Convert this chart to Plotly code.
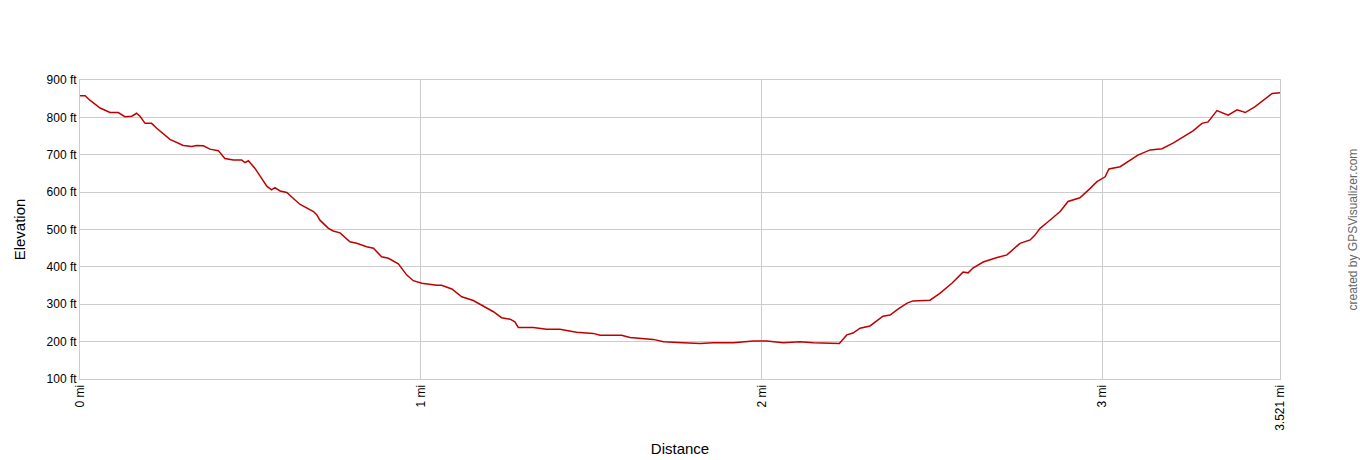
import plotly.graph_objects as go

# elevation profile
distance_mi = [
    0.000, 0.015, 0.029, 0.049, 0.059, 0.088, 0.112, 0.132, 0.152, 0.166,
    0.176, 0.191, 0.210, 0.225, 0.264, 0.303, 0.328, 0.342, 0.362, 0.381,
    0.406, 0.425, 0.450, 0.474, 0.484, 0.494, 0.513, 0.533, 0.548, 0.562,
    0.572, 0.587, 0.607, 0.626, 0.646, 0.685, 0.695, 0.704, 0.729, 0.743,
    0.763, 0.792, 0.812, 0.841, 0.861, 0.885, 0.905, 0.934, 0.959, 0.978,
    1.003, 1.047, 1.061, 1.091, 1.120, 1.154, 1.193, 1.213, 1.237, 1.262,
    1.276, 1.286, 1.330, 1.369, 1.408, 1.457, 1.506, 1.526, 1.589, 1.614,
    1.682, 1.712, 1.770, 1.819, 1.858, 1.917, 1.976, 2.015, 2.064, 2.113,
    2.152, 2.201, 2.228, 2.250, 2.268, 2.289, 2.318, 2.356, 2.377, 2.400,
    2.427, 2.444, 2.494, 2.523, 2.559, 2.591, 2.606, 2.620, 2.650, 2.691,
    2.720, 2.758, 2.788, 2.802, 2.817, 2.837, 2.876, 2.899, 2.934, 2.964,
    2.984, 3.008, 3.019, 3.052, 3.081, 3.104, 3.140, 3.175, 3.207, 3.248,
    3.266, 3.292, 3.310, 3.336, 3.369, 3.395, 3.419, 3.448, 3.471, 3.498,
    3.521,
]
elevation_ft = [
    858, 858, 846, 833, 825, 813, 813, 802, 803, 811,
    803, 784, 784, 771, 741, 725, 722, 725, 724, 715,
    711, 690, 686, 686, 679, 684, 664, 637, 616, 606,
    612, 603, 599, 583, 567, 548, 539, 525, 503, 496,
    491, 467, 463, 454, 450, 427, 423, 408, 378, 363,
    356, 351, 351, 341, 320, 310, 289, 280, 264, 260,
    253, 238, 238, 233, 233, 225, 222, 217, 217, 211,
    206, 200, 197, 195, 197, 197, 202, 202, 197, 200,
    197, 197, 195, 218, 223, 236, 242, 268, 271, 287,
    303, 309, 311, 329, 357, 386, 384, 397, 413, 425,
    432, 463, 472, 485, 503, 518, 548, 575, 585, 610,
    628, 641, 662, 668, 686, 699, 713, 716, 731, 753,
    764, 784, 788, 818, 806, 820, 813, 829, 846, 864,
    866,
]

x_ticks = [0, 1, 2, 3, 3.521]
x_tick_text = ["0 mi", "1 mi", "2 mi", "3 mi", "3.521 mi"]
y_ticks = [100, 200, 300, 400, 500, 600, 700, 800, 900]
y_tick_text = [f"{v} ft" for v in y_ticks]

fig = go.Figure()
fig.add_trace(go.Scatter(
    x=distance_mi,
    y=elevation_ft,
    mode="lines",
    line=dict(color="#c00000", width=1.5),
    hoverinfo="x+y",
    showlegend=False,
))

grid = "#cccccc"
fig.update_xaxes(
    range=[0, 3.521],
    tickvals=x_ticks,
    ticktext=x_tick_text,
    tickangle=-90,
    tickfont=dict(size=12),
    showgrid=True,
    gridcolor=grid,
    showline=True,
    linecolor=grid,
    mirror=True,
    zeroline=False,
    ticks="",
    automargin=False,
    title=dict(text="Distance", font=dict(size=15), standoff=13),
)
fig.update_yaxes(
    range=[100, 900],
    tickvals=y_ticks,
    ticktext=y_tick_text,
    tickfont=dict(size=12),
    showgrid=True,
    gridcolor=grid,
    showline=True,
    linecolor=grid,
    mirror=True,
    zeroline=False,
    ticks="",
    automargin=False,
    title=dict(text="Elevation", font=dict(size=15), standoff=17),
)

fig.add_annotation(
    text="created by GPSVisualizer.com",
    xref="paper", yref="paper",
    x=1.0, y=0.5,
    xanchor="center", yanchor="middle",
    xshift=72,
    textangle=-90,
    showarrow=False,
    font=dict(size=12, color="#666666"),
)

fig.update_layout(
    width=1360,
    height=460,
    margin=dict(l=80, r=80, t=80, b=81),
    paper_bgcolor="white",
    plot_bgcolor="white",
    font=dict(family="Liberation Sans, Arial, sans-serif", size=12, color="#000000"),
)

# drop the default 8px body margin so the figure fills the window exactly
fig.write_html(
    "out.html",
    config={"displayModeBar": False},
    post_script="document.body.style.margin = '0';",
)
